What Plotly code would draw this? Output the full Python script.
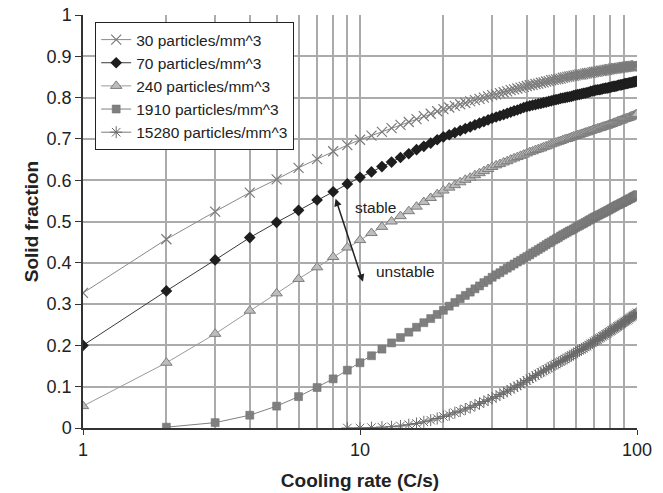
import math
import plotly.graph_objects as go

# ---------------- data ----------------
rate_30 = list(range(1, 101))
sf_30 = [0.327, 0.457, 0.524, 0.570, 0.602, 0.630, 0.651, 0.670, 0.685, 0.698,
         0.708, 0.717, 0.726, 0.734, 0.741, 0.748, 0.755, 0.761, 0.767, 0.772,
         0.776, 0.780, 0.784, 0.787, 0.791, 0.794, 0.797, 0.800, 0.803, 0.806,
         0.808, 0.811, 0.813, 0.815, 0.818, 0.820, 0.822, 0.824, 0.826, 0.828,
         0.830, 0.831, 0.833, 0.834, 0.836, 0.837, 0.839, 0.840, 0.842, 0.843,
         0.844, 0.845, 0.846, 0.848, 0.849, 0.850, 0.851, 0.852, 0.853, 0.854,
         0.855, 0.856, 0.856, 0.857, 0.858, 0.859, 0.860, 0.860, 0.861, 0.862,
         0.863, 0.863, 0.864, 0.865, 0.865, 0.866, 0.867, 0.867, 0.868, 0.869,
         0.869, 0.870, 0.870, 0.871, 0.871, 0.872, 0.872, 0.873, 0.873, 0.874,
         0.874, 0.875, 0.875, 0.876, 0.876, 0.876, 0.877, 0.877, 0.878, 0.878]

rate_70 = list(range(1, 101))
sf_70 = [0.200, 0.332, 0.407, 0.461, 0.498, 0.527, 0.552, 0.572, 0.591, 0.607,
         0.620, 0.633, 0.644, 0.655, 0.664, 0.674, 0.682, 0.690, 0.698, 0.705,
         0.710, 0.715, 0.720, 0.725, 0.729, 0.734, 0.738, 0.742, 0.746, 0.750,
         0.753, 0.756, 0.759, 0.762, 0.765, 0.768, 0.770, 0.773, 0.776, 0.778,
         0.780, 0.782, 0.783, 0.785, 0.786, 0.788, 0.789, 0.791, 0.792, 0.794,
         0.795, 0.796, 0.798, 0.799, 0.800, 0.801, 0.802, 0.803, 0.805, 0.806,
         0.807, 0.808, 0.809, 0.810, 0.811, 0.812, 0.813, 0.815, 0.816, 0.817,
         0.818, 0.819, 0.819, 0.820, 0.821, 0.822, 0.823, 0.823, 0.824, 0.825,
         0.826, 0.827, 0.827, 0.828, 0.829, 0.830, 0.831, 0.831, 0.832, 0.833,
         0.834, 0.834, 0.835, 0.836, 0.836, 0.837, 0.838, 0.838, 0.839, 0.840]

rate_240 = list(range(1, 101))
sf_240 = [0.053, 0.158, 0.228, 0.284, 0.326, 0.361, 0.389, 0.414, 0.437, 0.455,
          0.472, 0.487, 0.500, 0.513, 0.525, 0.536, 0.547, 0.557, 0.566, 0.575,
          0.582, 0.588, 0.595, 0.601, 0.606, 0.612, 0.617, 0.622, 0.627, 0.632,
          0.636, 0.639, 0.643, 0.646, 0.650, 0.653, 0.656, 0.659, 0.662, 0.665,
          0.668, 0.670, 0.673, 0.675, 0.677, 0.680, 0.682, 0.684, 0.687, 0.689,
          0.691, 0.693, 0.695, 0.697, 0.699, 0.700, 0.702, 0.704, 0.706, 0.707,
          0.709, 0.710, 0.712, 0.713, 0.715, 0.716, 0.718, 0.719, 0.721, 0.722,
          0.723, 0.725, 0.726, 0.727, 0.729, 0.730, 0.731, 0.732, 0.734, 0.735,
          0.736, 0.738, 0.739, 0.740, 0.742, 0.743, 0.744, 0.745, 0.747, 0.748,
          0.749, 0.750, 0.751, 0.752, 0.754, 0.755, 0.756, 0.757, 0.759, 0.760]

rate_1910 = list(range(2, 101))
sf_1910 = [0.002, 0.013, 0.031, 0.053, 0.076, 0.098, 0.119, 0.140, 0.158,
           0.175, 0.191, 0.206, 0.219, 0.232, 0.244, 0.255, 0.265, 0.275, 0.285,
           0.295, 0.304, 0.313, 0.321, 0.329, 0.337, 0.344, 0.352, 0.358, 0.365,
           0.371, 0.376, 0.382, 0.387, 0.392, 0.397, 0.402, 0.406, 0.411, 0.415,
           0.419, 0.424, 0.428, 0.432, 0.436, 0.440, 0.444, 0.448, 0.451, 0.455,
           0.458, 0.461, 0.465, 0.468, 0.471, 0.474, 0.477, 0.479, 0.482, 0.485,
           0.488, 0.490, 0.493, 0.495, 0.498, 0.500, 0.503, 0.505, 0.508, 0.510,
           0.512, 0.514, 0.516, 0.518, 0.520, 0.522, 0.524, 0.526, 0.528, 0.530,
           0.532, 0.534, 0.536, 0.538, 0.540, 0.541, 0.543, 0.545, 0.546, 0.548,
           0.550, 0.551, 0.553, 0.555, 0.556, 0.558, 0.560, 0.561, 0.563, 0.565]

rate_15280 = list(range(9, 101))
sf_15280 = [0.000, 0.000,
            0.001, 0.002, 0.003, 0.005, 0.008, 0.011, 0.015, 0.019, 0.023, 0.028,
            0.032, 0.037, 0.041, 0.046, 0.050, 0.055, 0.059, 0.064, 0.068, 0.072,
            0.076, 0.081, 0.085, 0.089, 0.094, 0.098, 0.102, 0.106, 0.111, 0.115,
            0.119, 0.123, 0.127, 0.131, 0.135, 0.138, 0.142, 0.145, 0.149, 0.152,
            0.155, 0.158, 0.161, 0.164, 0.167, 0.170, 0.173, 0.176, 0.179, 0.182,
            0.185, 0.188, 0.190, 0.193, 0.196, 0.198, 0.201, 0.204, 0.206, 0.209,
            0.212, 0.214, 0.217, 0.219, 0.222, 0.224, 0.227, 0.229, 0.232, 0.234,
            0.236, 0.239, 0.241, 0.243, 0.246, 0.248, 0.250, 0.252, 0.255, 0.257,
            0.259, 0.261, 0.263, 0.266, 0.268, 0.270, 0.272, 0.274, 0.276, 0.279]

series_names = ["30 particles/mm^3", "70 particles/mm^3", "240 particles/mm^3",
                "1910 particles/mm^3", "15280 particles/mm^3"]

x_major_ticks = [1, 10, 100]
x_minor_ticks = [2, 3, 4, 5, 6, 7, 8, 9, 20, 30, 40, 50, 60, 70, 80, 90]
y_ticks = [0, 0.1, 0.2, 0.3, 0.4, 0.5, 0.6, 0.7, 0.8, 0.9, 1]
y_tick_text = ["0", "0.1", "0.2", "0.3", "0.4", "0.5", "0.6", "0.7", "0.8", "0.9", "1"]

# ---------------- figure ----------------
FONT = "Liberation Sans, Arial, sans-serif"
TXT = "#222222"
fig = go.Figure()

fig.add_trace(go.Scatter(
    x=rate_30, y=sf_30, name=series_names[0], mode="lines+markers",
    line=dict(color="#8a8a8a", width=1),
    marker=dict(symbol="x-thin", size=10, color="#7a7a7a",
                line=dict(color="#7a7a7a", width=1.2))))

fig.add_trace(go.Scatter(
    x=rate_70, y=sf_70, name=series_names[1], mode="lines+markers",
    line=dict(color="#3a3a3a", width=1),
    marker=dict(symbol="diamond", size=9, color="#1e1e1e")))

fig.add_trace(go.Scatter(
    x=rate_240, y=sf_240, name=series_names[2], mode="lines+markers",
    line=dict(color="#9a9a9a", width=1),
    marker=dict(symbol="triangle-up", size=10, color="#bdbdbd",
                line=dict(color="#7c7c7c", width=1))))

fig.add_trace(go.Scatter(
    x=rate_1910, y=sf_1910, name=series_names[3], mode="lines+markers",
    line=dict(color="#7f7f7f", width=1),
    marker=dict(symbol="square", size=8, color="#7f7f7f",
                line=dict(color="#6f6f6f", width=0.5))))

fig.add_trace(go.Scatter(
    x=rate_15280, y=sf_15280, name=series_names[4], mode="lines+markers",
    line=dict(color="#7a7a7a", width=1),
    marker=dict(symbol="asterisk-open", size=10, color="#6a6a6a",
                line=dict(color="#6a6a6a", width=1))))

# double-headed arrow and labels
fig.add_annotation(
    x=math.log10(10.25), y=0.354, ax=math.log10(8.13), ay=0.559,
    xref="x", yref="y", axref="x", ayref="y",
    showarrow=True, arrowhead=2, startarrowhead=2, arrowside="end+start",
    arrowsize=1, startarrowsize=1, arrowwidth=1.5, arrowcolor=TXT, text="")
fig.add_annotation(x=math.log10(11.4), y=0.535, xref="x", yref="y",
                   text="stable", showarrow=False,
                   font=dict(family=FONT, size=15.5, color=TXT))
fig.add_annotation(x=math.log10(14.6), y=0.380, xref="x", yref="y",
                   text="unstable", showarrow=False,
                   font=dict(family=FONT, size=15.5, color=TXT))

grid_col = "#ababab"
fig.update_xaxes(
    type="log", range=[0, 2], automargin=False,
    tickvals=x_major_ticks, ticktext=[str(v) for v in x_major_ticks],
    showgrid=True, gridcolor=grid_col, gridwidth=1.5,
    minor=dict(tickvals=x_minor_ticks, showgrid=True, gridcolor=grid_col,
               gridwidth=1.5, ticks=""),
    ticks="outside", ticklen=5, tickcolor="#333333",
    showline=True, linecolor="#333333", linewidth=1.5,
    zeroline=False,
    tickfont=dict(family=FONT, size=18, color=TXT),
    title=dict(text="<b>Cooling rate (C/s)</b>", standoff=14,
               font=dict(family=FONT, size=19, color=TXT)))

fig.update_yaxes(
    range=[0, 1], automargin=False,
    tickvals=y_ticks, ticktext=y_tick_text,
    showgrid=True, gridcolor=grid_col, gridwidth=1.5,
    ticks="outside", ticklen=6, tickcolor="#333333",
    showline=True, linecolor="#333333", linewidth=1.5,
    zeroline=False,
    tickfont=dict(family=FONT, size=18, color=TXT),
    title=dict(text="<b>Solid fraction</b>", standoff=3,
               font=dict(family=FONT, size=19, color=TXT)))

fig.update_layout(
    width=663, height=493,
    margin=dict(l=83, r=26, t=15, b=65, autoexpand=False),
    paper_bgcolor="white", plot_bgcolor="white",
    font=dict(family=FONT, color=TXT),
    legend=dict(x=0.022, y=0.983, xanchor="left", yanchor="top",
                bgcolor="white", bordercolor=TXT, borderwidth=1,
                font=dict(family=FONT, size=15.5, color=TXT),
                tracegroupgap=3.5),
    showlegend=True)

fig.write_html("out.html")
